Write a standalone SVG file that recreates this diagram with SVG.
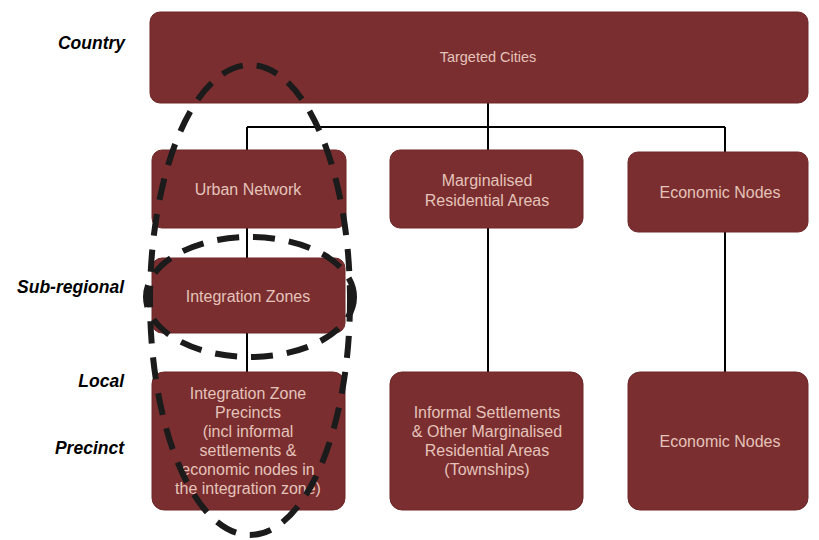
<svg xmlns="http://www.w3.org/2000/svg" width="819" height="540" viewBox="0 0 819 540">
<style>
.box{fill:#7b2e2f;stroke:#6e2627;stroke-width:1}
.t{font-family:"Liberation Sans",Arial,sans-serif;font-size:16px;fill:#e4c3bb;text-anchor:middle}
.lvl{font-family:"Liberation Sans",sans-serif;font-size:17.5px;font-weight:bold;font-style:italic;fill:#000;text-anchor:end}
.con{stroke:#000;stroke-width:2;fill:none}
.dash{fill:none;stroke:#1b1b1b;stroke-width:6;stroke-dasharray:22 14}
</style>
<rect width="819" height="540" fill="#fff"/>
<g id="labels">
<text class="lvl" x="125" y="49">Country</text>
<text class="lvl" x="124" y="293">Sub-regional</text>
<text class="lvl" x="124" y="387">Local</text>
<text class="lvl" x="124" y="454">Precinct</text>
</g>
<g id="connectors">
<line class="con" x1="488" y1="103" x2="488" y2="127"/>
<line class="con" x1="247" y1="127" x2="725" y2="127"/>
<line class="con" x1="247" y1="127" x2="247" y2="150"/>
<line class="con" x1="488" y1="127" x2="488" y2="150"/>
<line class="con" x1="725" y1="127" x2="725" y2="152"/>
<line class="con" x1="247" y1="228" x2="247" y2="258"/>
<line class="con" x1="247" y1="333" x2="247" y2="372"/>
<line class="con" x1="488" y1="228" x2="488" y2="372"/>
<line class="con" x1="725" y1="232" x2="725" y2="372"/>
</g>
<g id="targeted-cities">
<rect class="box" x="150" y="12" width="658" height="91" rx="10"/>
<text class="t" x="488" y="62" style="font-size:14.5px">Targeted Cities</text>
</g>
<g id="urban-network">
<rect class="box" x="152" y="150" width="194" height="78" rx="10"/>
<text class="t" x="248" y="195">Urban Network</text>
</g>
<g id="marginalised">
<rect class="box" x="390" y="150" width="193" height="78" rx="10"/>
<text class="t" x="487" y="186">Marginalised</text>
<text class="t" x="487" y="206">Residential Areas</text>
</g>
<g id="economic-nodes-1">
<rect class="box" x="628" y="152" width="180" height="80" rx="10"/>
<text class="t" x="720" y="198">Economic Nodes</text>
</g>
<g id="integration-zones">
<rect class="box" x="152" y="258" width="193" height="75" rx="10"/>
<text class="t" x="248" y="302">Integration Zones</text>
</g>
<g id="iz-precincts">
<rect class="box" x="152" y="372" width="193" height="138" rx="12"/>
<text class="t" x="248" y="399">Integration Zone</text>
<text class="t" x="248" y="418">Precincts</text>
<text class="t" x="248" y="437">(incl informal</text>
<text class="t" x="248" y="456">settlements &amp;</text>
<text class="t" x="248" y="475">economic nodes in</text>
<text class="t" x="248" y="494">the integration zone)</text>
</g>
<g id="informal-settlements">
<rect class="box" x="390" y="372" width="193" height="138" rx="12"/>
<text class="t" x="487" y="418">Informal Settlements</text>
<text class="t" x="487" y="437">&amp; Other Marginalised</text>
<text class="t" x="487" y="456">Residential Areas</text>
<text class="t" x="487" y="475">(Townships)</text>
</g>
<g id="economic-nodes-2">
<rect class="box" x="628" y="372" width="180" height="138" rx="12"/>
<text class="t" x="720" y="447">Economic Nodes</text>
</g>
<g id="highlights">
<ellipse class="dash" cx="250" cy="300" rx="100" ry="235"/>
<ellipse class="dash" cx="250" cy="297" rx="104" ry="60"/>
</g>
</svg>
